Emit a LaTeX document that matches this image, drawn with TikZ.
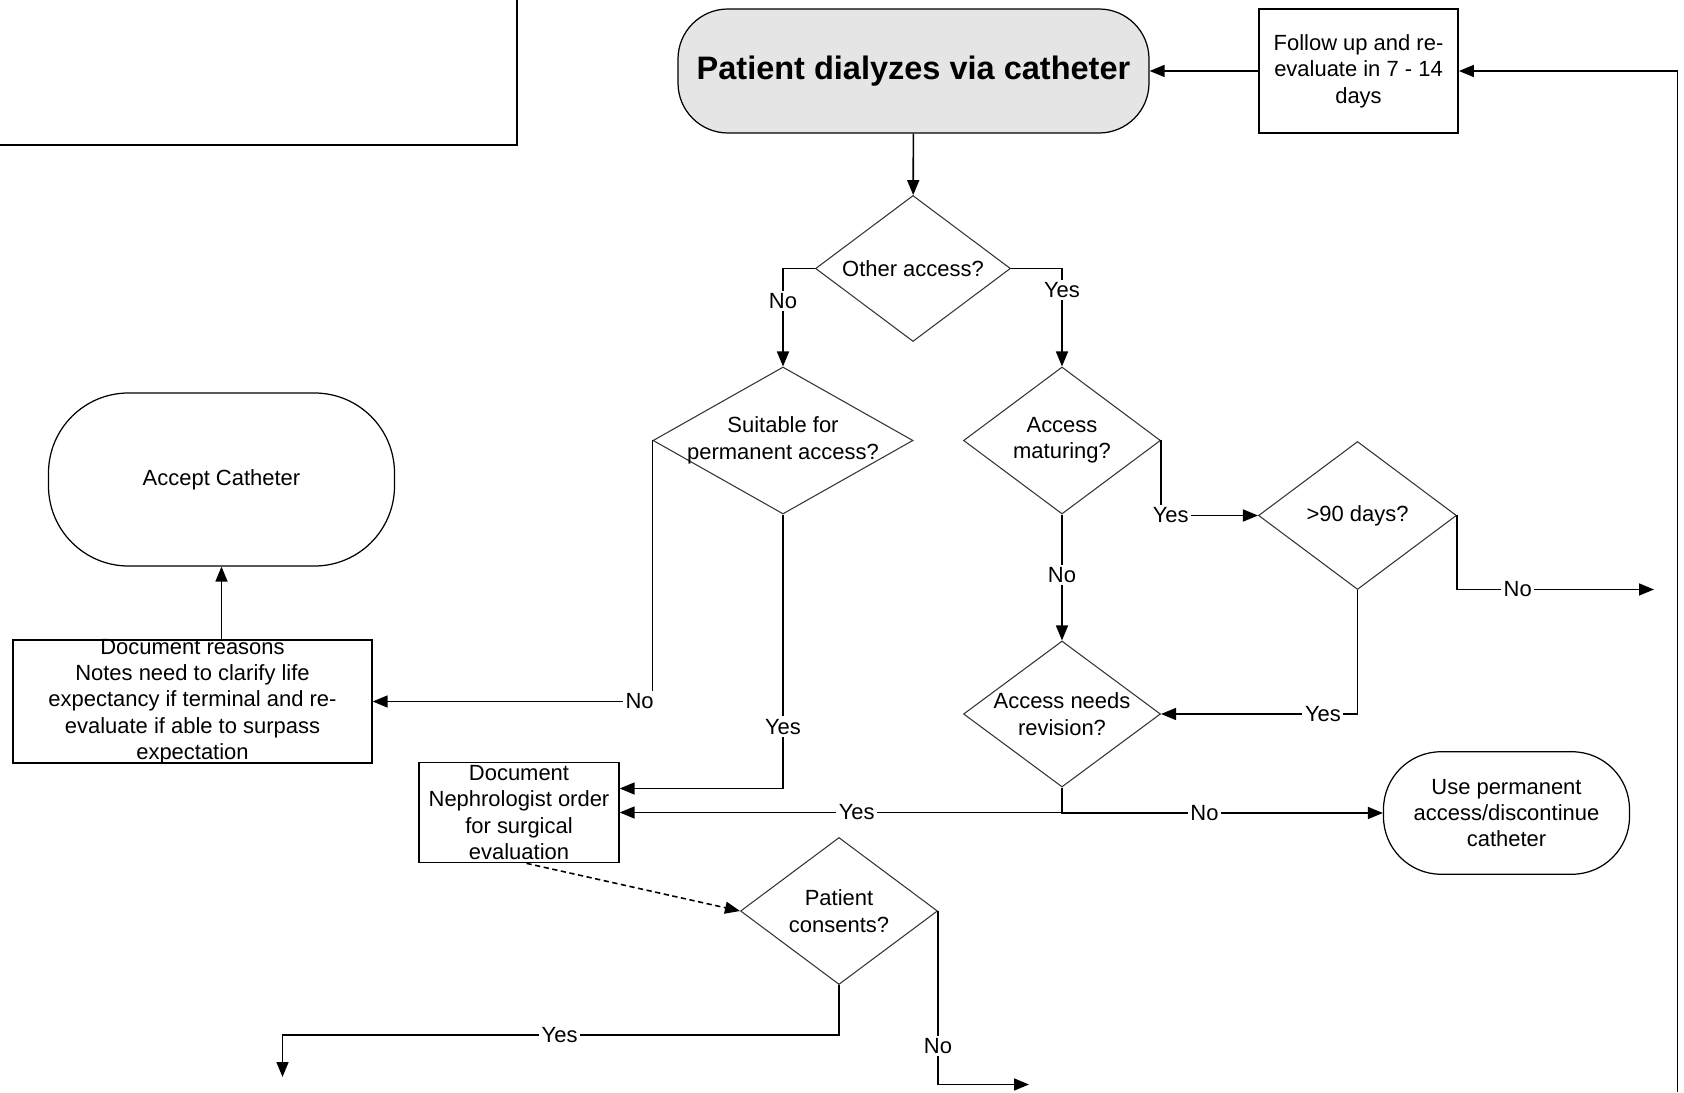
\documentclass[tikz,border=0pt]{standalone}
\usepackage{fontspec}
\setmainfont{Liberation Sans}
\usetikzlibrary{arrows.meta,shapes.geometric}

\tikzset{
  arr/.style = {-{Triangle[length=3mm,width=2.4mm]}, line width=0.9pt},
  lbl/.style = {fill=white, inner sep=1.5pt},
  decision/.style = {diamond, draw=black!80, line width=0.6pt, inner sep=0pt},
  terminal/.style = {draw, line width=0.7pt, align=center},
  procbox/.style = {draw, line width=1pt, inner sep=0pt, align=center},
  ctext/.style = {align=center}
}

\begin{document}
\begin{tikzpicture}[font=\fontsize{12.5}{15}\selectfont]
\useasboundingbox (0,0) rectangle (33.68,21.84);

% cut-off box, top left
\draw[line width=1.2pt] (0,18.94) -| (10.34,21.84);

% nodes
\node[terminal, fill=black!10, rounded corners=1cm, minimum width=9.42cm, minimum height=2.48cm,
      font=\fontsize{18.5}{22}\selectfont\bfseries] (main) at (18.27,20.42) {Patient dialyzes via catheter};
\node[procbox, minimum width=3.98cm, minimum height=2.48cm] (follow) at (27.17,20.42) {Follow up and re-\\evaluate in 7 - 14\\days};
\node[decision, minimum width=3.9cm, minimum height=2.92cm, label={[ctext]center:Other access?}] (other) at (18.26,16.47) {};
\node[decision, minimum width=5.2cm, minimum height=2.94cm, label={[ctext]center:{Suitable for\\permanent access?}}] (suit) at (15.66,13.03) {};
\node[decision, minimum width=3.94cm, minimum height=2.94cm, label={[ctext]center:{Access\\maturing?}}] (mat) at (21.24,13.03) {};
\node[decision, minimum width=3.96cm, minimum height=2.96cm, label={[ctext]center:{>90 days?}}] (days) at (27.15,11.53) {};
\node[decision, minimum width=3.94cm, minimum height=2.92cm, label={[ctext]center:{Access needs\\revision?}}] (rev) at (21.24,7.56) {};
\node[terminal, rounded corners=1.15cm, minimum width=4.92cm, minimum height=2.45cm] (use) at (30.13,5.58) {Use permanent\\access/discontinue\\catheter};
\node[terminal, rounded corners=1.6cm, minimum width=6.92cm, minimum height=3.46cm] (accept) at (4.43,12.25) {Accept Catheter};
\node[procbox, minimum width=7.17cm, minimum height=2.45cm,
      label={[ctext]center:{Document reasons\\Notes need to clarify life\\expectancy if terminal and re-\\evaluate if able to surpass\\expectation}}] (reasons) at (3.85,7.81) {};
\node[procbox, minimum width=3.99cm, minimum height=2.0cm,
      label={[ctext]center:{Document\\Nephrologist order\\for surgical\\evaluation}}] (nephro) at (10.38,5.59) {};
\node[decision, minimum width=3.94cm, minimum height=2.94cm, label={[ctext]center:{Patient\\consents?}}] (consents) at (16.78,3.62) {};

% free ends
\coordinate (loopin) at (33.55,0);
\coordinate (daysout) at (33.08,10.05);
\coordinate (yesout) at (5.65,0.3);
\coordinate (noout) at (20.58,0.15);

% connectors
\draw[arr] (follow) -- (main);
\draw[arr] (loopin) |- (follow.east);
\draw[arr] (main) -- (other);
\draw[arr] (other.west) -| node[lbl, pos=0.665] {No} (suit.north);
\draw[arr] (other.east) -| node[lbl, pos=0.61] {Yes} (mat.north);
\draw[arr] (mat.east) |- node[lbl, pos=0.55] {Yes} (days.west);
\draw[arr] (days.east) |- node[lbl, pos=0.654] {No} (daysout);
\draw[arr] (days.south) |- node[lbl, pos=0.588] {Yes} (rev.east);
\draw[arr] (mat.south) -- node[lbl, pos=0.48] {No} (rev.north);
\draw[arr] (rev.south) |- node[lbl, pos=0.732] {Yes} (nephro.east);
\draw[arr] (rev.south) |- node[lbl, pos=0.722] {No} (use.west);
\draw[arr] (suit.west) |- node[lbl, pos=0.523] {No} (reasons.east);
\draw[arr] (suit.south) |- node[lbl, pos=0.387] {Yes} ([yshift=4.8mm]nephro.east);
\draw[arr] (reasons.north -| accept.south) -- (accept.south);
\draw[arr, densely dashed] ([xshift=1.5mm]nephro.south) -- (consents.west);
\draw[arr] (consents.south) -- ++(0,-1.0) -| node[lbl, pos=0.251] {Yes} (yesout);
\draw[arr] (consents.east) |- node[lbl, pos=0.389] {No} (noout);
\end{tikzpicture}
\end{document}
